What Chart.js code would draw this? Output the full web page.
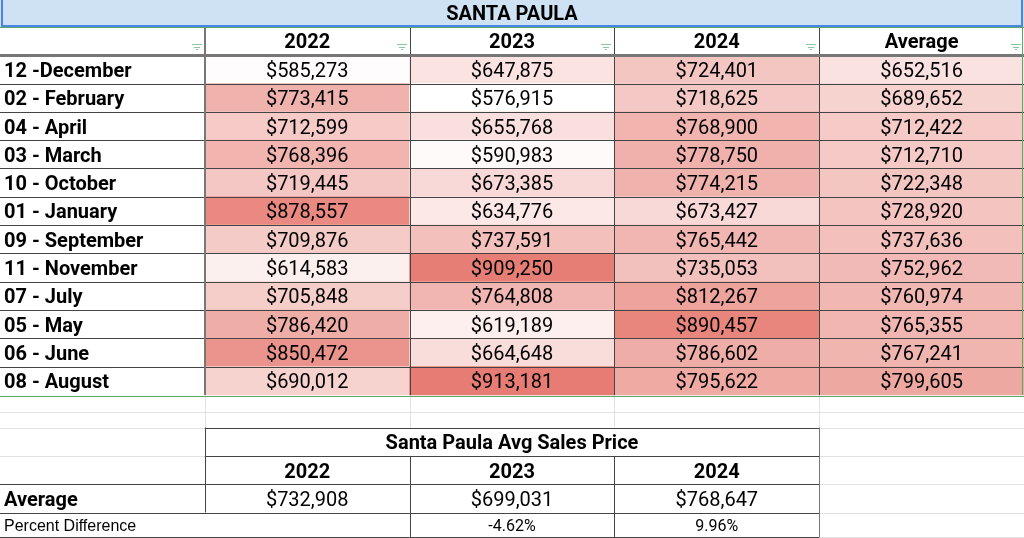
<!DOCTYPE html>
<html>
<head>
<meta charset="utf-8">
<title>Santa Paula</title>
<script src="https://cdn.jsdelivr.net/npm/chart.js"></script>
<style>
  html, body { margin: 0; padding: 0; background: #fff; }
  #wrap { width: 1024px; height: 538px; position: relative; }
</style>
</head>
<body>
<div id="wrap"><canvas id="sheet"></canvas></div>
<script>
const title = "SANTA PAULA";
const months = ["12 -December", "02 - February", "04 - April", "03 - March", "10 - October", "01 - January",
  "09 - September", "11 - November", "07 - July", "05 - May", "06 - June", "08 - August"];
const headers = ["2022", "2023", "2024", "Average"];
const prices2022 = [585273, 773415, 712599, 768396, 719445, 878557, 709876, 614583, 705848, 786420, 850472, 690012];
const prices2023 = [647875, 576915, 655768, 590983, 673385, 634776, 737591, 909250, 764808, 619189, 664648, 913181];
const prices2024 = [724401, 718625, 768900, 778750, 774215, 673427, 765442, 735053, 812267, 890457, 786602, 795622];
const pricesAvg = [652516, 689652, 712422, 712710, 722348, 728920, 737636, 752962, 760974, 765355, 767241, 799605];

const summaryTitle = "Santa Paula Avg Sales Price";
const summaryYears = ["2022", "2023", "2024"];
const summaryAvg = [732908, 699031, 768647];
const percentDiff = [null, -4.62, 9.96];

// sheet rows in y units (1 unit = one row)
const ROW_TITLE = 0, ROW_HEAD = 0.95, ROW_DATA = 1.95;
const ROW_DATA_END = ROW_DATA + months.length;
const ROW_BLANK_MID = 14.55, ROW_SUM = 15.1, SHEET_BOTTOM = 18.97;

const columns = [prices2022, prices2023, prices2024, pricesAvg];
const allPrices = columns.flat();
const lo = Math.min(...allPrices), hi = Math.max(...allPrices);

// sheets style colour scale: white -> #e67c73
function heatColor(v) {
  const t = (v - lo) / (hi - lo);
  const r = Math.round(255 + (230 - 255) * t);
  const g = Math.round(255 + (124 - 255) * t);
  const b = Math.round(255 + (115 - 255) * t);
  return `rgb(${r},${g},${b})`;
}

const money = v => "$" + v.toLocaleString("en-US");

let cells = [];
let cellColors = [];
columns.forEach((col, c) => {
  col.forEach((v, r) => {
    cells.push({ x: [c + 1, c + 2], y: ROW_DATA + r + 0.5, v: v });
    cellColors.push(heatColor(v));
  });
});

const sheetPlugin = {
  id: "sheet",
  beforeDatasetsDraw(chart) {
    const ctx = chart.ctx;
    const xs = chart.scales.x, ys = chart.scales.y;
    const px = u => xs.getPixelForValue(u);
    const py = u => ys.getPixelForValue(u);
    ctx.save();
    ctx.fillStyle = "#fff";
    ctx.fillRect(0, 0, chart.width, chart.height);
    ctx.fillStyle = "#cfe2f3";
    ctx.fillRect(px(0), py(ROW_TITLE), px(5) - px(0), py(ROW_HEAD) - py(ROW_TITLE));
    // faint sheet grid
    ctx.strokeStyle = "#e2e2e2";
    ctx.lineWidth = 1;
    [1, 2, 3, 4].forEach(c => hLineV(ctx, px(c), py(ROW_DATA_END), py(ROW_SUM)));
    [ROW_DATA_END + 0.05, ROW_BLANK_MID, ROW_SUM, ROW_SUM + 1, ROW_SUM + 2, ROW_SUM + 3, SHEET_BOTTOM]
      .forEach(r => line(ctx, px(0), py(r), px(5), py(r)));
    ctx.restore();
  },
  afterDatasetsDraw(chart) {
    const ctx = chart.ctx;
    const xs = chart.scales.x, ys = chart.scales.y;
    const px = u => xs.getPixelForValue(u);
    const py = u => ys.getPixelForValue(u);
    ctx.save();

    // main table borders
    ctx.strokeStyle = "#444";
    ctx.lineWidth = 1;
    for (let r = 1; r < months.length; r++) line(ctx, px(0), py(ROW_DATA + r), px(5), py(ROW_DATA + r));
    [2, 3, 4].forEach(c => hLineV(ctx, px(c), py(ROW_HEAD), py(ROW_DATA_END)));
    ctx.strokeStyle = "#777";
    ctx.lineWidth = 2;
    hLineV(ctx, px(1), py(ROW_HEAD), py(ROW_DATA_END));
    ctx.lineWidth = 3;
    line(ctx, px(0), py(ROW_DATA), px(5), py(ROW_DATA));

    // filter range outline
    ctx.strokeStyle = "#5aa867";
    ctx.lineWidth = 1;
    line(ctx, px(0), py(ROW_HEAD) + 0.5, px(5), py(ROW_HEAD) + 0.5);
    line(ctx, px(0), py(ROW_DATA_END) + 0.5, px(5), py(ROW_DATA_END) + 0.5);
    hLineV(ctx, px(5) - 2, py(ROW_HEAD), py(ROW_DATA_END));

    // title border
    ctx.strokeStyle = "#4a86e8";
    ctx.lineWidth = 2;
    ctx.beginPath();
    ctx.moveTo(px(0) + 2, py(ROW_TITLE));
    ctx.lineTo(px(0) + 2, py(ROW_HEAD) - 1);
    ctx.lineTo(px(5) - 2, py(ROW_HEAD) - 1);
    ctx.lineTo(px(5) - 2, py(ROW_TITLE));
    ctx.stroke();

    // summary table borders
    ctx.strokeStyle = "#444";
    ctx.lineWidth = 1;
    line(ctx, px(1), py(ROW_SUM), px(4), py(ROW_SUM));
    line(ctx, px(1), py(ROW_SUM + 1), px(4), py(ROW_SUM + 1));
    line(ctx, px(0), py(ROW_SUM + 2), px(4), py(ROW_SUM + 2));
    line(ctx, px(0), py(ROW_SUM + 3), px(4), py(ROW_SUM + 3));
    line(ctx, px(0), py(SHEET_BOTTOM), px(4), py(SHEET_BOTTOM));
    hLineV(ctx, px(1), py(ROW_SUM), py(ROW_SUM + 3));
    hLineV(ctx, px(2), py(ROW_SUM + 1), py(SHEET_BOTTOM));
    hLineV(ctx, px(3), py(ROW_SUM + 1), py(SHEET_BOTTOM));
    ctx.strokeStyle = "#777";
    hLineV(ctx, px(4), py(ROW_SUM), py(SHEET_BOTTOM));

    // filter icons
    ctx.strokeStyle = "#8cc79b";
    ctx.lineWidth = 1;
    for (let c = 1; c <= 5; c++) {
      const cx = Math.round(px(c)) - 8;
      const cy = Math.round(py(ROW_DATA)) - 11;
      line(ctx, cx - 5, cy, cx + 5, cy);
      line(ctx, cx - 3, cy + 2.5, cx + 3, cy + 2.5);
      line(ctx, cx - 1, cy + 5, cx + 1, cy + 5);
    }

    // text
    ctx.fillStyle = "#000";
    ctx.textBaseline = "alphabetic";
    const mid = r => (py(r) + py(r + 1)) / 2;

    ctx.textAlign = "center";
    ctx.font = "bold 20px Roboto";
    ctx.fillText(title, px(2.5), (py(ROW_TITLE) + py(ROW_HEAD)) / 2 + 7);
    headers.forEach((h, i) => ctx.fillText(h, px(i + 1.5), mid(ROW_HEAD) + 7));

    ctx.textAlign = "left";
    months.forEach((m, i) => ctx.fillText(m, px(0) + 4, mid(ROW_DATA + i) + 7.5));

    ctx.textAlign = "center";
    ctx.font = "20px Roboto";
    const meta = chart.getDatasetMeta(0);
    meta.data.forEach((bar, i) => {
      const v = chart.data.datasets[0].data[i].v;
      ctx.fillText(money(v), (bar.x + bar.base) / 2, bar.y + 7.5);
    });

    ctx.font = "bold 20px Roboto";
    ctx.fillText(summaryTitle, px(2.5), mid(ROW_SUM) + 7.5);
    summaryYears.forEach((y, i) => ctx.fillText(y, px(i + 1.5), mid(ROW_SUM + 1) + 7.5));
    ctx.textAlign = "left";
    ctx.fillText("Average", px(0) + 4, mid(ROW_SUM + 2) + 7.5);
    ctx.textAlign = "center";
    ctx.font = "20px Roboto";
    summaryAvg.forEach((v, i) => ctx.fillText(money(v), px(i + 1.5), mid(ROW_SUM + 2) + 7.5));

    const lastMid = (py(ROW_SUM + 3) + py(SHEET_BOTTOM)) / 2;
    ctx.textAlign = "left";
    ctx.font = "16px 'Liberation Sans'";
    ctx.fillText("Percent Difference", px(0) + 4, lastMid + 6);
    ctx.textAlign = "center";
    ctx.font = "16px Roboto";
    percentDiff.forEach((p, i) => {
      if (p !== null) ctx.fillText(p.toFixed(2) + "%", px(i + 1.5), lastMid + 6);
    });
    ctx.restore();
  },
};

function line(ctx, x1, y1, x2, y2) {
  ctx.beginPath();
  ctx.moveTo(x1, Math.round(y1) + (ctx.lineWidth % 2 ? 0.5 : 0));
  ctx.lineTo(x2, Math.round(y2) + (ctx.lineWidth % 2 ? 0.5 : 0));
  ctx.stroke();
}

function hLineV(ctx, x, y1, y2) {
  const xx = Math.round(x) + (ctx.lineWidth % 2 ? 0.5 : 0);
  ctx.beginPath();
  ctx.moveTo(xx, y1);
  ctx.lineTo(xx, y2);
  ctx.stroke();
}

new Chart(document.getElementById("sheet"), {
  type: "bar",
  data: {
    datasets: [
      {
        data: cells,
        backgroundColor: cellColors,
        borderWidth: 0,
        categoryPercentage: 1,
        barPercentage: 1,
      },
    ],
  },
  options: {
    indexAxis: "y",
    responsive: true,
    maintainAspectRatio: false,
    animation: false,
    layout: { padding: 0 },
    scales: {
      x: { type: "linear", min: 0, max: 5, display: false, offset: false },
      y: { type: "linear", min: 0, max: 19, reverse: true, display: false, offset: false, ticks: { stepSize: 1 } },
    },
    plugins: {
      legend: { display: false },
      tooltip: { enabled: false },
    },
  },
  plugins: [sheetPlugin],
});
</script>
</body>
</html>
